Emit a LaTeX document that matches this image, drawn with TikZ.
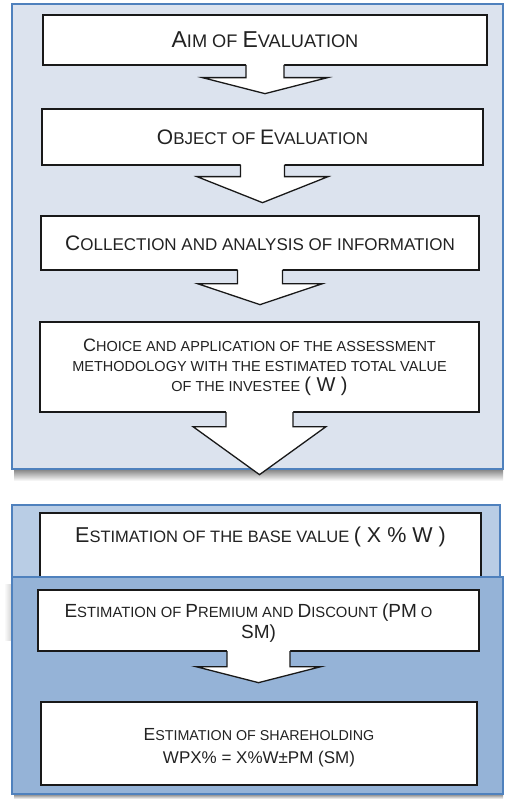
\documentclass[tikz,border=0pt]{standalone}
\usepackage{fontspec}
\setmainfont{Liberation Sans}
\usetikzlibrary{calc}

\definecolor{panelA}{HTML}{DCE3EE}
\definecolor{panelB}{HTML}{B9CDE5}
\definecolor{panelC}{HTML}{95B3D7}
\definecolor{rim}{HTML}{4F81BD}
\definecolor{ink}{HTML}{222222}

% larger initial capital inside small-caps style text
\newcommand\Cp[2]{{\fontsize{#1}{#1}\selectfont #2}}

\tikzset{
  panel/.style={draw=rim, line width=1.2pt},
  box/.style={draw=black!90, line width=1.3pt, fill=white, inner sep=0pt,
              text=ink, align=center},
  arrowline/.style={draw=black!90, line width=1.3pt, line join=miter},
}

% block arrow hanging from the bottom of a box:
% #1 node, #2 shaft half-width, #3 wing depth, #4 wing half-width, #5 tip depth
\newcommand\flowarrow[5]{%
  \fill[white] ($(#1.south)+(-#2,-1.5)$) -- ($(#1.south)+(-#2,#3)$)
    -- ($(#1.south)+(-#4,#3)$) -- ($(#1.south)+(0,#5)$)
    -- ($(#1.south)+(#4,#3)$) -- ($(#1.south)+(#2,#3)$)
    -- ($(#1.south)+(#2,-1.5)$) -- cycle;
  \draw[arrowline] ($(#1.south)+(-#2,-0.65)$) -- ($(#1.south)+(-#2,#3)$)
    -- ($(#1.south)+(-#4,#3)$) -- ($(#1.south)+(0,#5)$)
    -- ($(#1.south)+(#4,#3)$) -- ($(#1.south)+(#2,#3)$)
    -- ($(#1.south)+(#2,-0.65)$);
}

\begin{document}
\begin{tikzpicture}[x=1pt, y=-1pt]
  \useasboundingbox (0,0) rectangle (504,799);

  % upper panel with its shadow
  \shade[top color=black!50, bottom color=white] (14,469) rectangle (503,481);
  \fill[panelA] (12,4) rectangle (503,469);
  \draw[panel] (12,4) rectangle (503,469);

  \node[box, minimum width=444, minimum height=50,
        font=\fontsize{18.2}{20}\selectfont] (b1) at (265,40)
        {\Cp{23}{A}IM OF \Cp{23}{E}VALUATION};
  \node[box, minimum width=441, minimum height=56,
        font=\fontsize{17}{20}\selectfont] (b2) at (262.5,137)
        {\Cp{21}{O}BJECT OF \Cp{21}{E}VALUATION};
  \node[box, minimum width=438, minimum height=54,
        font=\fontsize{17}{20}\selectfont] (b3) at (260,243)
        {\Cp{21}{C}OLLECTION AND ANALYSIS OF INFORMATION};
  \node[box, minimum width=439, minimum height=90,
        font=\fontsize{14.5}{20}\selectfont] (b4) at (259.5,367)
        {\Cp{18}{C}HOICE AND APPLICATION OF THE ASSESSMENT\\
         METHODOLOGY WITH THE ESTIMATED TOTAL VALUE\\
         OF THE INVESTEE \Cp{20}{( W )}};

  \flowarrow{b1}{19}{12}{62.5}{28}
  \flowarrow{b2}{22}{11}{65.5}{37}
  \flowarrow{b3}{22.5}{13}{62.5}{34}
  \flowarrow{b4}{33.5}{14}{66.5}{62}

  % lower panels
  \fill[panelB] (12,505) rectangle (500,590);
  \draw[panel] (12,505) rectangle (500,590);
  \draw[box] (40,513) rectangle (481,595);
  \node[text=ink, font=\fontsize{16.5}{20}\selectfont] (b5) at (260.5,537)
        {\Cp{21.5}{E}STIMATION OF THE BASE VALUE \Cp{21.5}{( X \% W )}};

  \shade[left color=white, right color=black!18] (4,584) rectangle (12,640);
  \shade[top color=black!50, bottom color=white] (14,794) rectangle (503,799);
  \fill[panelC] (12,577) rectangle (503,794);
  \draw[panel] (12,577) rectangle (503,794);

  \node[box, minimum width=441, minimum height=61,
        font=\fontsize{14.8}{21}\selectfont] (b6) at (258.5,620.5)
        {\rule{0pt}{19pt}\Cp{19}{E}STIMATION OF \Cp{19}{P}REMIUM AND \Cp{19}{D}ISCOUNT \Cp{19}{(PM} O\hspace*{20pt}\\
         \Cp{19}{SM)}};
  \node[box, minimum width=436, minimum height=83,
        font=\fontsize{14.3}{22.5}\selectfont] (b7) at (259,743.5)
        {\rule{0pt}{20pt}\Cp{17.5}{E}STIMATION OF SHAREHOLDING\\
         \Cp{17}{WPX\% = X\%W±PM (SM)}};

  \flowarrow{b6}{31.5}{15}{62.5}{31}
\end{tikzpicture}
\end{document}
